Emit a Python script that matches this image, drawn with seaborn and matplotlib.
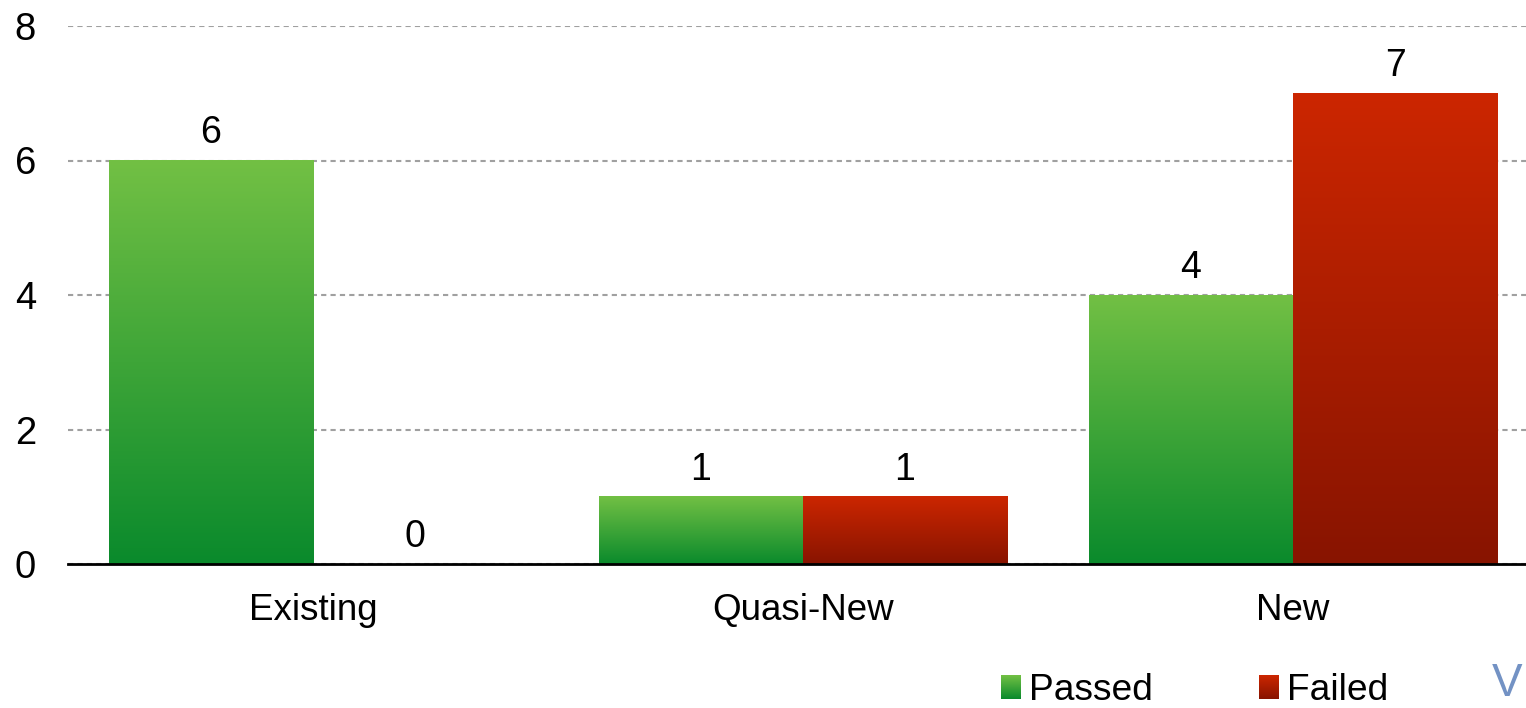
import numpy as np
import pandas as pd
import matplotlib
matplotlib.use("Agg")
import matplotlib.pyplot as plt
import seaborn as sns
from matplotlib.colors import LinearSegmentedColormap
from matplotlib.patches import Patch
from matplotlib.legend_handler import HandlerBase
from matplotlib.image import BboxImage
from matplotlib.transforms import Bbox, TransformedBbox

# --- data -------------------------------------------------------------
categories = ["Existing", "Quasi-New", "New"]
passed = [6, 1, 4]
failed = [0, 1, 7]
series_names = ["Passed", "Failed"]
y_ticks = [0, 2, 4, 6, 8]

df = pd.DataFrame({
    "category": categories * 2,
    "count": passed + failed,
    "result": [series_names[0]] * len(categories) + [series_names[1]] * len(categories),
})

# --- styling ----------------------------------------------------------
sns.set_theme(style="white")
plt.rcParams["font.family"] = ["Liberation Sans", "DejaVu Sans"]
plt.rcParams["text.color"] = "black"

green_cmap = LinearSegmentedColormap.from_list("green_grad", ["#0a8a2c", "#72c044"])
red_cmap = LinearSegmentedColormap.from_list("red_grad", ["#881400", "#cc2600"])
cmaps = {"Passed": green_cmap, "Failed": red_cmap}

W, H = 1526, 708
fig = plt.figure(figsize=(W / 100, H / 100), dpi=100)
ax = fig.add_axes([68 / W, 144 / H, 1470 / W, 538 / H])

sns.barplot(
    data=df, x="category", y="count", hue="result",
    hue_order=series_names, order=categories,
    palette={"Passed": "#72c044", "Failed": "#cc2600"},
    width=0.833, gap=0, legend=False, ax=ax, zorder=2,
)

# vertical gradient fill for every bar
grad = np.linspace(0, 1, 256).reshape(-1, 1)
for container, name in zip(ax.containers, series_names):
    for bar in container:
        x, w, h = bar.get_x(), bar.get_width(), bar.get_height()
        bar.set_facecolor("none")
        bar.set_edgecolor("none")
        if h > 0:
            ax.imshow(grad, cmap=cmaps[name], origin="lower", aspect="auto",
                      extent=[x, x + w, 0, h], interpolation="bilinear", zorder=2)
    ax.bar_label(container, labels=[f"{v:g}" for v in container.datavalues],
                 padding=6.5, fontsize=27, color="black")

ax.set_xlim(-0.5, 2.5)
ax.set_ylim(0, 8)
ax.set_yticks(y_ticks)
ax.set_xlabel("")
ax.set_ylabel("")

ax.yaxis.grid(True, linestyle=(0, (2.5, 2)), color="#a0a0a0", linewidth=1.5, zorder=0)
ax.xaxis.grid(False)
ax.set_axisbelow(True)
for side in ["left", "right", "top"]:
    ax.spines[side].set_visible(False)
ax.spines["bottom"].set_color("black")
ax.spines["bottom"].set_linewidth(2)
ax.spines["bottom"].set_zorder(3)

ax.tick_params(axis="y", length=0, pad=23, labelsize=27.5, labelcolor="black")
ax.tick_params(axis="x", length=0, pad=21, labelsize=26.5, labelcolor="black")


class GradientSquare(HandlerBase):
    def __init__(self, cmap):
        super().__init__()
        self.cmap = cmap

    def create_artists(self, legend, orig_handle, xdescent, ydescent,
                       width, height, fontsize, trans):
        bb = TransformedBbox(Bbox.from_bounds(-xdescent, -ydescent, width, height), trans)
        img = BboxImage(bb, cmap=self.cmap, interpolation="bilinear", origin="lower")
        img.set_data(np.linspace(0, 1, 64).reshape(-1, 1))
        img.set_clim(0, 1)
        return [img]


handles = [Patch(label=n) for n in series_names]
fig.legend(
    handles=handles, labels=series_names,
    handler_map={h: GradientSquare(cmaps[n]) for h, n in zip(handles, series_names)},
    loc="center left", bbox_to_anchor=(1001 / W, (H - 691) / H),
    ncol=2, frameon=False, fontsize=26.7, borderpad=0, borderaxespad=0,
    handlelength=0.52, handleheight=0.58, handletextpad=0.24, columnspacing=2.86,
    labelcolor="black",
)

fig.text(1492 / W, 2 / H, "V", fontsize=33, color="#5a7fba", alpha=0.85,
         family=["Liberation Sans Narrow", "Liberation Sans"], va="bottom", ha="left")

fig.savefig("out.png", dpi=100)
